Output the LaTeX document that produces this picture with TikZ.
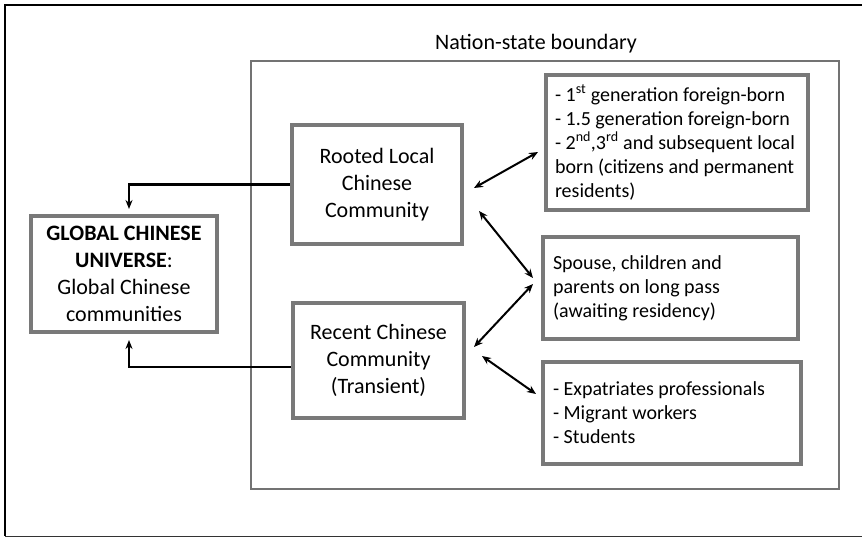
\documentclass[tikz,border=0pt]{standalone}
\usepackage{fontspec}
\setmainfont{Carlito}
\usetikzlibrary{arrows.meta}

\begin{document}
\begin{tikzpicture}[x=1pt,y=-1pt,
  grpbox/.style={draw=gray!95!black,line width=4pt,fill=white,align=center,inner sep=0pt,
    font=\fontsize{22}{27}\selectfont},
  listbox/.style={draw=gray!95!black,line width=4pt,fill=white,align=flush left,inner sep=0pt,
    font=\fontsize{20}{24}\selectfont},
  link/.style={line width=2.3pt,-{Stealth[length=9pt,width=7pt]}},
  both/.style={line width=2pt,{Stealth[length=9pt,width=7.5pt]}-{Stealth[length=9pt,width=7.5pt]}}]
\useasboundingbox (0,0) rectangle (862,537);
\fill[white] (0,0) rectangle (862,537);
% outer frame
\draw[line width=2.5pt] (862,5) -- (5,5) -- (5,536);
\draw[line width=1pt,black!80] (5,536) -- (862,536);

% nation-state boundary
\draw[gray!90!black,line width=2pt] (251,61) rectangle (839,489);
\node[font=\fontsize{22}{27}\selectfont] (title) at (536,44) {Nation-state boundary};

\node[grpbox,minimum width=186pt,minimum height=116pt] (global) at (124,274)
  {\textbf{GLOBAL CHINESE}\\\textbf{UNIVERSE}:\\Global Chinese\\communities};
\node[grpbox,minimum width=170pt,minimum height=119pt] (rooted) at (377,184.5)
  {Rooted Local\\Chinese\\Community};
\node[grpbox,minimum width=171pt,minimum height=115pt] (recent) at (378.5,360.5)
  {Recent Chinese\\Community\\(Transient)};

\node[listbox,minimum width=262pt,minimum height=135pt,text width=244pt] (gen) at (677,142.5)
  {\mbox{- 1\textsuperscript{st} generation foreign-born}\\\mbox{- 1.5 generation foreign-born}\\
   \mbox{- 2\textsuperscript{nd},3\textsuperscript{rd} and subsequent local}\\\mbox{born (citizens and permanent}\\residents)};
\node[listbox,minimum width=255pt,minimum height=102pt,text width=235pt] (spouse) at (670.5,288)
  {Spouse, children and\\parents on long pass\\(awaiting residency)};
\node[listbox,minimum width=258pt,minimum height=102pt,text width=238pt] (expat) at (672,413)
  {- Expatriates professionals\\- Migrant workers\\- Students};

% links to the global universe
\draw[link] (rooted.west) -| ([shift={(5,-5)}]global.north);
\draw[link] ([shift={(0,6.5)}]recent.west) -| ([shift={(5,6)}]global.south);

% two-way links
\draw[both] ([shift={(10,3.5)}]rooted.east) -- ([shift={(-6,9.5)}]gen.west);
\draw[both] ([shift={(15,-35)}]rooted.south east) -- ([shift={(-8,-10)}]spouse.west);
\draw[both] ([shift={(8,-13.5)}]recent.east) -- ([shift={(-8,-4)}]spouse.west);
\draw[both] ([shift={(16,-4.5)}]recent.east) -- ([shift={(-5,-19)}]expat.west);
\end{tikzpicture}
\end{document}
